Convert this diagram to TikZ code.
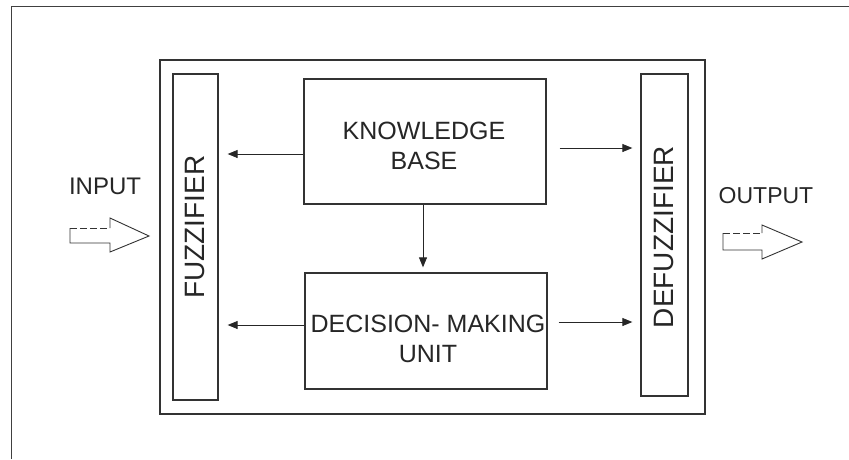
\documentclass[tikz,border=0pt]{standalone}
\usepackage{fontspec}
\setmainfont{Liberation Sans}
\usetikzlibrary{arrows.meta,calc}
\begin{document}
\begin{tikzpicture}[x=1pt,y=-1pt,
  line join=miter,
  box/.style={draw=black!80,line width=1.3pt,rectangle,inner sep=0pt},
  lbl/.style={text=black!85,inner sep=0pt,align=center},
  arr/.style={draw=black!85,line width=0.9pt,-{Triangle[length=10pt,width=8pt]}},
  blockarrow/.style={draw=black!80,line width=0.9pt},
  frameline/.style={draw=black!75,line width=1pt}
]
\useasboundingbox (0,0) rectangle (849,459);
\fill[white] (0,0) rectangle (849,459);

% page frame (top and left edges)
\draw[frameline] (11,459) -- (11,6) -- (849,6);

% enclosing system box
\node[box,minimum width=545pt,minimum height=354pt] (sys) at (432.5,237) {};

% fuzzifier / defuzzifier columns
\node[box,minimum width=45pt,minimum height=326pt] (fuzz) at (195.5,237) {};
\node[box,minimum width=47pt,minimum height=322pt] (defuzz) at (664.5,235) {};
\node[lbl,rotate=90,font=\fontsize{28}{30}\selectfont] (fuzzt) at (195,227) {FUZZIFIER};
\node[lbl,rotate=90,font=\fontsize{28}{30}\selectfont] (defuzzt) at (663.5,237) {DEFUZZIFIER};

% knowledge base and decision-making unit
\node[box,minimum width=242pt,minimum height=125pt] (kb) at (425,141.5) {};
\node[box,minimum width=242pt,minimum height=116pt] (dmu) at (426,331) {};
\node[lbl,font=\fontsize{25}{29.5}\selectfont] (kbt) at (424,146) {KNOWLEDGE\\BASE};
\node[lbl,font=\fontsize{25}{30}\selectfont] (dmut) at (428,338.5) {DECISION- MAKING\\UNIT};

% internal connectors
\draw[arr,shorten >=9pt] ([yshift=-12.5pt]kb.west) -- ([yshift=-12.5pt]kb.west -| fuzz.east);
\draw[arr,shorten >=9pt] ([yshift=6pt]dmu.west) -- ([yshift=6pt]dmu.west -| fuzz.east);
\draw[arr,shorten >=8pt] ([xshift=13pt,yshift=-6.5pt]kb.east) -- ([yshift=-6.5pt]kb.east -| defuzz.west);
\draw[arr,shorten >=8pt] ([xshift=11pt,yshift=9pt]dmu.east) -- ([yshift=9pt]dmu.east -| defuzz.west);
\draw[arr,shorten >=5pt] ([xshift=-2pt]kb.south) -- ([xshift=-2pt]kb.south |- dmu.north);

% input / output labels and hollow block arrows
\node[lbl,font=\fontsize{24}{26}\selectfont] (inp) at (105,186) {INPUT};
\node[lbl,font=\fontsize{23}{26}\selectfont] (outp) at (766,196) {OUTPUT};

\draw[blockarrow] (110,228) -- (110,218) -- (149,236) -- (110,252) -- (110,243) -- (70,243) -- (70,228);
\draw[blockarrow,dash pattern=on 7pt off 3pt] (70,228) -- (110,228);

\draw[blockarrow] (762,233) -- (762,225) -- (802,242) -- (762,259) -- (762,250) -- (723,250) -- (723,233);
\draw[blockarrow,dash pattern=on 7pt off 3pt] (723,233) -- (762,233);
\end{tikzpicture}
\end{document}
